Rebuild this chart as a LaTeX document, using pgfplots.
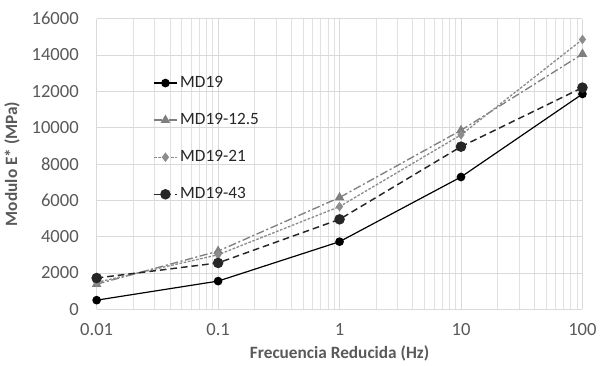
\documentclass[border=0pt]{standalone}
\usepackage{pgfplots}
\pgfplotsset{compat=1.18}
\usepackage{fontspec}
\setmainfont{Carlito}
\definecolor{tickgray}{HTML}{595959}
\definecolor{gridgray}{HTML}{D9D9D9}
\definecolor{sergray}{HTML}{7F7F7F}
\definecolor{sergray2}{HTML}{8C8C8C}
\begin{document}
\begin{tikzpicture}
\begin{axis}[
  scale only axis,
  width=366pt, height=219pt,
  xmode=log, log basis x=10,
  xmin=0.01, xmax=100, ymin=0, ymax=16000,
  xtick={0.01,0.1,1,10,100},
  xticklabels={0.01,0.1,1,10,100},
  minor xtick={0.02,0.03,0.04,0.05,0.06,0.07,0.08,0.09,0.2,0.3,0.4,0.5,0.6,0.7,0.8,0.9,2,3,4,5,6,7,8,9,20,30,40,50,60,70,80,90},
  ytick={0,2000,...,16000},
  yticklabel style={xshift=-10pt},
  /pgf/number format/fixed,
  /pgf/number format/1000 sep={},
  /pgf/number format/assume math mode=true,
  scaled y ticks=false,
  tick label style={font=\fontsize{14}{16}\selectfont, text=tickgray},
  xticklabel style={yshift=-7pt},
  xlabel={Frecuencia Reducida (Hz)},
  ylabel={Modulo E* (MPa)},
  label style={font=\bfseries\fontsize{13}{15}\selectfont, text=tickgray},
  xlabel style={yshift=-1pt},
  ylabel style={yshift=2pt},
  axis line style={gridgray},
  axis x line*=bottom, axis y line*=left,
  y axis line style={draw=none},
  major tick length=0pt, minor tick length=0pt,
  grid=both,
  major grid style={gridgray, line width=0.6pt},
  minor grid style={gridgray!80, line width=0.4pt},
  legend style={at={(0.108,0.82)}, anchor=north west, draw=none, fill=none,
    font=\fontsize{13}{15}\selectfont, row sep=14pt, text=black!85},
  legend cell align=left,
  legend image code/.code={
    \draw[#1] (0cm,0cm) -- (0.6cm,0cm);
    \draw[#1, mark repeat=2, mark phase=2] plot coordinates {(0cm,0cm) (0.3cm,0cm) (0.6cm,0cm)};
  },
  clip=false,
]
\addplot[black, line width=0.9pt, mark=*, mark size=2.8pt] coordinates {
  (0.01,500) (0.1,1550) (1,3720) (10,7280) (100,11850)};
\addlegendentry{MD19}
\addplot[sergray, line width=1pt, dash pattern=on 6pt off 2pt on 1.5pt off 2pt, mark=triangle*, mark size=3.2pt, mark options={solid}] coordinates {
  (0.01,1380) (0.1,3200) (1,6150) (10,9850) (100,14050)};
\addlegendentry{MD19-12.5}
\addplot[sergray2, line width=1pt, dash pattern=on 2pt off 1.2pt, mark=diamond*, mark size=2.8pt, mark options={solid}] coordinates {
  (0.01,1480) (0.1,3000) (1,5650) (10,9600) (100,14850)};
\addlegendentry{MD19-21}
\addplot[black!85, line width=1.1pt, dash pattern=on 5pt off 3pt, mark=*, mark size=3.4pt, mark options={solid}] coordinates {
  (0.01,1720) (0.1,2550) (1,4950) (10,8950) (100,12200)};
\addlegendentry{MD19-43}
\path (rel axis cs:0,1) ++(0,14pt);
\end{axis}
\end{tikzpicture}
\end{document}
